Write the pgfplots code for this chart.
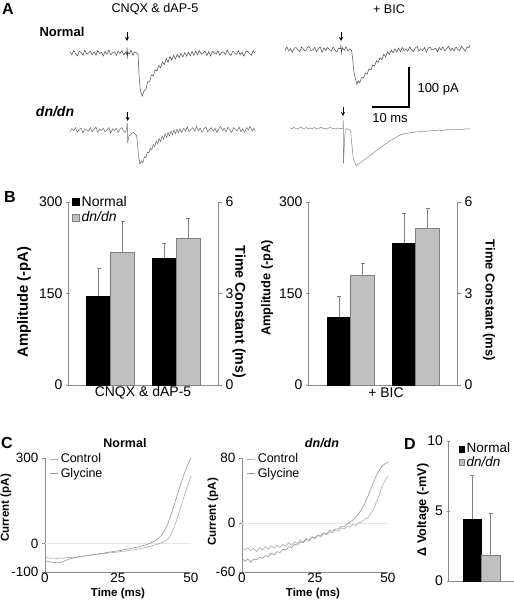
\documentclass[border=0pt]{standalone}
\usepackage{fontspec}
\setmainfont{Liberation Sans}
\usepackage{pgfplots}
\pgfplotsset{compat=1.18}
\usetikzlibrary{arrows.meta}
\definecolor{axgray}{HTML}{8C8C8C}
\definecolor{bargray}{HTML}{C0C0C0}
\definecolor{baredge}{HTML}{808080}
\definecolor{trN}{HTML}{4A4A4A}
\definecolor{trD}{HTML}{6A6A6A}
\definecolor{trE}{HTML}{858585}
\newcommand{\fs}[1]{\fontsize{#1}{#1}\selectfont}
\pgfplotsset{
  /pgf/number format/assume math mode=true,
  noarrows/.style={axis line style={-}, x axis line style={-}, y axis line style={-}},
  trace/.style={hide axis, scale only axis, width=185pt, height=64pt,
    xmin=0, xmax=50, ymin=-130, ymax=30, anchor=south west, clip=false},
  barax/.style={scale only axis, anchor=south west, clip=false,
    axis line style={draw=axgray, line width=0.8pt, -},
    tick align=outside, major tick length=4pt,
    tick style={axgray, line width=0.8pt},
    ticklabel style={font=\fs{14}}, xtick=\empty},
  sq/.style={legend image code/.code={\draw[##1] (0pt,-3.5pt) rectangle (7pt,3.5pt);}},
  sqD/.style={legend image code/.code={\draw[##1] (0pt,-3pt) rectangle (5pt,3pt);}},
  errs/.style={error bars/y dir=plus, error bars/y explicit,
    error bars/error bar style={baredge, line width=0.7pt}},
  blackbar/.style={ybar, bar shift=0pt, fill=black, draw=black, sq, errs},
  graybar/.style={ybar, bar shift=0pt, fill=bargray, draw=baredge, sq, errs},
  cax/.style={scale only axis, anchor=south west, clip=false,
    width=146pt, height=114pt, xmin=0, xmax=50,
    axis x line=bottom, axis y line=left,
    axis line style={draw=axgray, line width=0.7pt, -},
    xtick={0,25,50}, tick align=outside, major tick length=3pt,
    tick style={axgray, line width=0.7pt}, xtick style={draw=none},
    ticklabel style={font=\fs{13.5}},
    xticklabel style={inner sep=0.5pt, yshift=3pt},
    legend style={at={(0.034,1.055)}, anchor=north west, draw=none, fill=none,
      font=\fs{12.5}, inner sep=0pt, row sep=0pt,
      legend image code/.code={\draw[##1] (0pt,0pt) -- (8pt,0pt);}},
    legend cell align=left},
}
\begin{document}
\begin{tikzpicture}[x=1pt,y=1pt]
\path[use as bounding box] (0,0) rectangle (514,600);

% ---------------- Panel A ----------------
\begin{axis}[trace, at={(70pt,495pt)}]
\addplot[trN, line width=0.5pt] coordinates {
(0,3)(0.5,-4.5)(1,6)(1.5,-1.5)(2,-7.5)(2.5,4.5)(3,1.5)(3.5,-6)(4,7.5)(4.5,-3)(5,0)(5.5,4.5)(6,-4.5)(6.5,3)(7,-6)(7.5,6)(8,-1.5)(8.5,1.5)(9,-7.5)(9.5,4.5)(10,-3)(10.5,7.5)(11,-4.5)(11.5,0)(12,3)(12.5,-6)(13,4.5)(13.5,-1.5)(14,6)(14.5,-4.5)(15,1.5)(15.3,-3)(15.4,14)(15.5,-14)(15.6,3)(16,-3)(16.5,7.5)(17,-6)(17.5,3)(18,0)(18.4,-4)(18.7,-60)(19,-92)(19.5,-108)(20,-95)(20.5,-92)(21,-72)(21.5,-72)(22,-55)(22.5,-58)(23,-42)(23.5,-45)(24,-31)(24.5,-37)(25,-22)(25.5,-29)(26,-14)(26.5,-23)(27,-9)(27.5,-18)(28,-6)(28.5,-15)(29,-3)(29.5,-12)(30,-1)(30.5,-10)(31,1)(31.5,-8)(32,2)(32.5,-7)(33,4)(33.5,-6)(34,5)(34.5,-4.5)(35,6)(35.5,-3)(36,0)(36.5,4.5)(37,-6)(37.5,3)(38,-7.5)(38.5,4.5)(39,0)(39.5,-3)(40,6)(40.5,-6)(41,1.5)(41.5,3)(42,-4.5)(42.5,7.5)(43,-1.5)(43.5,-6)(44,4.5)(44.5,0)(45,-3)(45.5,6)(46,-4.5)(46.5,1.5)(47,-7.5)(47.5,3)(48,4.5)(48.5,-1.5)(49,-6)(49.5,6)(50,0)};
\end{axis}

\begin{axis}[trace, at={(285pt,498.7pt)}]
\addplot[trN, line width=0.5pt] coordinates {
(0,-3)(0.5,6)(1,-4.5)(1.5,1.5)(2,-7.5)(2.5,3)(3,4.5)(3.5,-1.5)(4,-6)(4.5,6)(5,0)(5.5,-4.5)(6,3)(6.5,7.5)(7,-3)(7.5,-1.5)(8,4.5)(8.5,-6)(9,1.5)(9.5,6)(10,-7.5)(10.5,3)(11,-3)(11.5,4.5)(12,0)(12.5,-4.5)(13,6)(13.5,-1.5)(14,-6)(14.5,3)(15,1.5)(15.1,12)(15.2,-10)(15.5,4.5)(16,-3)(16.5,6)(17,-4.5)(17.5,1.5)(18,-3)(18.3,-25)(18.6,-55)(19,-72)(19.4,-87)(19.8,-79)(20.2,-84)(20.7,-70)(21.2,-72)(21.7,-60)(22.2,-62)(22.7,-49)(23.2,-52)(23.7,-39)(24.2,-42)(24.7,-29)(25.2,-33)(25.7,-21)(26.2,-26)(26.7,-12)(27.2,-19)(27.7,-6)(28.2,-13)(28.7,-2)(29.2,-9)(29.7,1)(30.2,-7)(30.7,3)(31.2,-6)(31.7,4.5)(32.2,-3)(32.7,1.5)(33.2,-4.5)(33.7,6)(34.2,-1.5)(34.7,-6)(35.2,3)(35.7,7.5)(36.2,-4.5)(36.7,1.5)(37.2,-3)(37.7,4.5)(38.2,-7.5)(38.7,3)(39.2,6)(39.7,-1.5)(40.2,0)(40.7,3)(41.2,-6)(41.7,4.5)(42.2,-1.5)(42.7,6)(43.2,-4.5)(43.7,1.5)(44.2,7.5)(44.7,-3)(45.2,3)(45.7,-4.5)(46.2,6)(46.7,0)(47.2,-3)(47.7,7.5)(48.2,1.5)(48.7,-4.5)(49.2,6)(49.7,3)(50,10)};
\end{axis}

\begin{axis}[trace, at={(70pt,418pt)}]
\addplot[trD, line width=0.5pt] coordinates {
(0,-4.5)(0.5,3)(1,-1.5)(1.5,6)(2,-6)(2.5,1.5)(3,4.5)(3.5,-7.5)(4,3)(4.5,0)(5,-3)(5.5,6)(6,-4.5)(6.5,1.5)(7,7.5)(7.5,-6)(8,3)(8.5,-1.5)(9,4.5)(9.5,-4.5)(10,0)(10.5,6)(11,-7.5)(11.5,3)(12,-1.5)(12.5,4.5)(13,-6)(13.5,1.5)(14,6)(14.5,-3)(15,-6)(15.3,4)(15.5,17)(15.6,-33)(15.8,-20)(16,-14)(16.4,-12)(16.8,-7)(17.2,-6)(17.6,-10)(18,-14)(18.3,-40)(18.6,-70)(18.9,-85)(19.3,-77)(19.7,-81)(20.1,-67)(20.5,-70)(20.9,-55)(21.3,-58)(21.7,-45)(22.1,-50)(22.5,-36)(22.9,-42)(23.3,-28)(23.7,-35)(24.1,-21)(24.5,-29)(24.9,-15)(25.3,-23)(25.7,-9)(26.1,-19)(26.5,-6)(26.9,-15)(27.3,-2)(27.7,-12)(28.1,1)(28.5,-10)(28.9,2)(29.3,-7)(29.7,3)(30.2,-6)(30.7,4.5)(31.2,-3)(31.7,7.5)(32.2,-4.5)(32.7,1.5)(33.2,6)(33.7,-3)(34.2,9)(34.7,-1.5)(35.2,4.5)(35.7,-6)(36.2,3)(36.7,7.5)(37.2,-4.5)(37.7,1.5)(38.2,6)(38.7,-3)(39.2,4.5)(39.7,-6)(40.2,3)(40.7,9)(41.2,-1.5)(41.7,4.5)(42.2,-4.5)(42.7,7.5)(43.2,0)(43.7,-6)(44.2,6)(44.7,1.5)(45.2,-3)(45.7,7.5)(46.2,-4.5)(46.7,3)(47.2,-6)(47.7,6)(48.2,0)(48.7,9)(49.2,-3)(49.7,4.5)(50,-1.5)};
\end{axis}

\begin{axis}[trace, at={(290pt,419.7pt)}]
\addplot[trE, line width=0.5pt] coordinates {
(0,1)(0.5,-1)(1,2)(1.5,0)(2,-2)(2.5,1)(3,3)(3.5,-1)(4,0)(4.5,2)(5,-2)(5.5,1)(6,-1)(6.5,2)(7,0)(7.5,-2)(8,1)(8.5,3)(9,-1)(9.5,0)(10,-2)(10.5,1)(11,2)(11.5,-1)(12,0)(12.5,-2)(13,1)(13.5,-1)(14,0)(14.3,-1)(14.4,20)(14.45,-88)(14.6,-60)(14.8,-20)(15,-4)(15.3,-1)(15.7,-2)(16.1,-4)(16.4,-8)(16.7,-40)(17.1,-75)(17.6,-88)(18,-93)(18.5,-89)(19,-86)(19.5,-83)(20,-79)(20.5,-77)(21,-72)(21.5,-69)(22,-65)(22.5,-62)(23,-58)(23.5,-55)(24,-51)(24.5,-48)(25,-44)(25.5,-41)(26,-38)(26.5,-35)(27,-31)(27.5,-29)(28,-26)(28.5,-24)(29,-20)(29.5,-18)(30,-16)(30.5,-15)(31,-13)(31.5,-13)(32,-12)(32.5,-11)(33,-10)(33.5,-10)(34,-9)(34.5,-9)(35,-8)(35.5,-9)(36,-7)(36.5,-8)(37,-7)(37.5,-6)(38,-7)(38.5,-6)(39,-5)(39.5,-6)(40,-5)(40.5,-4)(41,-6)(41.5,-4)(42,-5)(42.5,-3)(43,-4)(43.5,-3)(44,-4)(44.5,-2)(45,-3)(45.5,-2)(46,-4)(46.5,-2)(47,-3)(47.5,-1)(48,-2)(48.6,-1)};
\end{axis}

% stimulus arrows and scale bar
\draw[-{Stealth[length=4pt,width=4pt]}, line width=0.7pt] (127,568) -- (127,559);
\draw[-{Stealth[length=4pt,width=4pt]}, line width=0.7pt] (341,568) -- (341,559);
\draw[-{Stealth[length=4pt,width=4pt]}, line width=0.7pt] (127.7,488) -- (127.7,479);
\draw[-{Stealth[length=4pt,width=4pt]}, line width=0.7pt] (343,493) -- (343,484);
\draw[line width=1.3pt] (409,533) -- (409,493) -- (372,493);
\node[anchor=west, font=\fs{13}] at (414,511) {100 pA};
\node[font=\fs{13}] at (390,482) {10 ms};

\node[font=\bfseries\fs{16}] at (8,591) {A};
\node[font=\fs{12.6}] at (155,591) {CNQX \& dAP-5};
\node[font=\fs{12.6}] at (389,591) {+ BIC};
\node[font=\bfseries\fs{13}] at (62,568) {Normal};
\node[font=\bfseries\itshape\fs{14}] at (55,488) {dn/dn};

% ---------------- Panel B ----------------
\begin{axis}[barax, at={(68pt,215pt)}, width=150pt, height=183pt,
  xmin=0, xmax=150, ymin=0, ymax=300, axis x line=bottom, axis y line=left,
  ytick={0,150,300}, noarrows,
  legend style={at={(0.027,1.045)}, anchor=north west, draw=none, fill=none,
    font=\fs{14}, inner sep=0pt, row sep=0pt}, legend cell align=left]
\addplot[blackbar, bar width=24pt] coordinates {(30.5,146) +- (0,46)};
\addlegendentry{Normal}
\addplot[graybar, bar width=24pt] coordinates {(54.5,218) +- (0,51)};
\addlegendentry{\textit{dn/dn}}
\end{axis}
\begin{axis}[barax, at={(68pt,215pt)}, width=150pt, height=183pt,
  xmin=0, xmax=150, ymin=0, ymax=6, axis y line*=right, hide x axis,
  ytick={0,3,6}, noarrows]
\addplot[blackbar, bar width=24pt] coordinates {(96,4.16) +- (0,0.5)};
\addplot[graybar, bar width=24pt] coordinates {(120,4.82) +- (0,0.66)};
\end{axis}

\begin{axis}[barax, at={(308pt,215pt)}, width=149pt, height=183pt,
  xmin=0, xmax=149, ymin=0, ymax=300, axis x line=bottom, axis y line=left,
  ytick={0,150,300}, noarrows]
\addplot[blackbar, bar width=24pt] coordinates {(31,111) +- (0,35)};
\addplot[graybar, bar width=24pt] coordinates {(54.5,180) +- (0,20)};
\end{axis}
\begin{axis}[barax, at={(308pt,215pt)}, width=149pt, height=183pt,
  xmin=0, xmax=149, ymin=0, ymax=6, axis y line*=right, hide x axis,
  ytick={0,3,6}, noarrows]
\addplot[blackbar, bar width=24pt] coordinates {(96,4.66) +- (0,0.98)};
\addplot[graybar, bar width=24pt] coordinates {(119.5,5.14) +- (0,0.66)};
\end{axis}

\node[font=\bfseries\fs{16}] at (10,403) {B};
\node[font=\bfseries\fs{14.8}, rotate=90] at (24,298) {Amplitude (-pA)};
\node[font=\bfseries\fs{14.2}, rotate=-90] at (239,288) {Time Constant (ms)};
\node[font=\fs{14}] at (143,207) {CNQX \& dAP-5};
\node[font=\bfseries\fs{12.8}, rotate=90] at (267,312) {Amplitude (-pA)};
\node[font=\bfseries\fs{13}, rotate=-90] at (489,299.5) {Time Constant (ms)};
\node[font=\fs{14}] at (386,207) {+ BIC};

% ---------------- Panel C ----------------
\begin{axis}[cax, at={(45pt,28pt)}, ymin=-100, ymax=300, ytick={-100,0,300}, noarrows]
\addplot[draw=black!10, line width=0.6pt, forget plot] coordinates {(0,0)(50,0)};
\addplot[color=black!32, line width=0.6pt] coordinates {
(0,-48)(1,-50)(2,-52)(3,-51)(4,-53)(5,-51)(6,-52)(7,-50)(8,-49)(9,-49)(10,-47)(11,-47)(12,-45)(13,-45)(14,-43)(15,-42)(16,-41)(17,-39)(18,-38)(19,-37)(20,-36)(21,-34)(22,-33)(23,-32)(24,-31)(25,-30)(26,-28)(27,-27)(28,-26)(29,-24)(30,-23)(31,-21)(32,-19)(33,-17)(34,-15)(35,-12)(36,-10)(37,-7)(38,-4)(39,-1)(40,3)(41,8)(42,15)(43,28)(44,50)(45,80)(46,112)(47,145)(48,178)(49,208)(50,238)};
\addlegendentry{Control}
\addplot[color=black!42, line width=0.6pt] coordinates {
(0,-60)(1,-63)(2,-65)(3,-66)(4,-68)(5,-67)(6,-64)(7,-60)(8,-56)(9,-53)(10,-50)(11,-48)(12,-46)(13,-45)(14,-43)(15,-41)(16,-40)(17,-38)(18,-37)(19,-35)(20,-34)(21,-32)(22,-30)(23,-29)(24,-27)(25,-26)(26,-24)(27,-22)(28,-20)(29,-18)(30,-16)(31,-14)(32,-12)(33,-9)(34,-6)(35,-3)(36,1)(37,6)(38,12)(39,20)(40,30)(41,46)(42,68)(43,96)(44,128)(45,160)(46,193)(47,224)(48,254)(49,279)(50,302)};
\addlegendentry{Glycine}
\end{axis}

\begin{axis}[cax, at={(242pt,28pt)}, ymin=-60, ymax=80, ytick={-60,0,80}, noarrows]
\addplot[draw=black!10, line width=0.6pt, forget plot] coordinates {(0,0)(50,0)};
\addplot[color=black!32, line width=0.6pt] coordinates {
(0,-30)(1,-33)(2,-30)(3,-34)(4,-31)(5,-35)(6,-30)(7,-33)(8,-29)(9,-32)(10,-28)(11,-31)(12,-27)(13,-30)(14,-26)(15,-28)(16,-24)(17,-27)(18,-23)(19,-25)(20,-21)(21,-23)(22,-19)(23,-22)(24,-17)(25,-19)(26,-15)(27,-17)(28,-13)(29,-14)(30,-11)(31,-12)(32,-8)(33,-10)(34,-6)(35,-7)(36,-4)(37,-5)(38,-1)(39,-3)(40,1)(41,1)(42,5)(43,6)(44,12)(45,16)(46,26)(47,34)(48,46)(49,52)(50,58)};
\addlegendentry{Control}
\addplot[color=black!42, line width=0.6pt] coordinates {
(0,-43)(1,-47)(2,-44)(3,-48)(4,-44)(5,-45)(6,-42)(7,-43)(8,-40)(9,-41)(10,-37)(11,-39)(12,-35)(13,-36)(14,-32)(15,-33)(16,-29)(17,-30)(18,-26)(19,-27)(20,-23)(21,-24)(22,-20)(23,-21)(24,-17)(25,-18)(26,-15)(27,-15)(28,-12)(29,-13)(30,-9)(31,-10)(32,-7)(33,-7)(34,-4)(35,-4)(36,-1)(37,1)(38,4)(39,8)(40,12)(41,17)(42,24)(43,32)(44,41)(45,50)(46,58)(47,65)(48,70)(49,73)(50,75)};
\addlegendentry{Glycine}
\end{axis}

\node[font=\bfseries\fs{16}] at (7,157) {C};
\node[font=\bfseries\fs{12.5}] at (125,157) {Normal};
\node[font=\bfseries\itshape\fs{12.5}] at (322,157) {dn/dn};
\node[font=\bfseries\fs{11.5}, rotate=90] at (6,92) {Current (pA)};
\node[font=\bfseries\fs{11.5}, rotate=90] at (213,88) {Current (pA)};
\node[font=\bfseries\fs{11.5}] at (118,6.5) {Time (ms)};
\node[font=\bfseries\fs{11.5}] at (313,6.5) {Time (ms)};

% ---------------- Panel D ----------------
\begin{axis}[barax, at={(448pt,19pt)}, width=66pt, height=140pt,
  xmin=0, xmax=66, ymin=0, ymax=10, axis x line=bottom, axis y line=left,
  ytick={0,5,10}, major tick length=3pt, noarrows,
  legend style={at={(0.167,1.0)}, anchor=north west, draw=none, fill=none,
    font=\fs{13.5}, inner sep=0pt, row sep=-1.5pt}, legend cell align=left]
\addplot[blackbar, sqD, bar width=18.5pt] coordinates {(24,4.43) +- (0,3.14)};
\addlegendentry{Normal}
\addplot[graybar, sqD, bar width=18.5pt] coordinates {(42.5,1.86) +- (0,3.0)};
\addlegendentry{\textit{dn/dn}}
\end{axis}
\node[font=\bfseries\fs{16}] at (410,156) {D};
\node[font=\bfseries\fs{12.6}, rotate=90] at (423,90) {Δ Voltage (-mV)};

\end{tikzpicture}
\end{document}
